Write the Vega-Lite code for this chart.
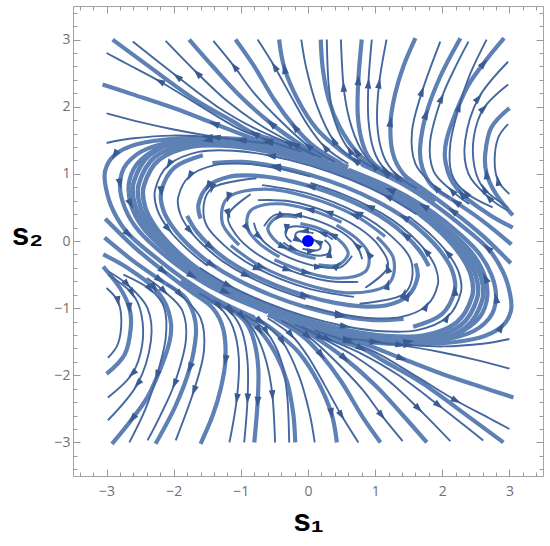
{
"$schema": "https://vega.github.io/schema/vega-lite/v6.json",
"width": 470, "height": 470,
"autosize": {"type": "none"},
"padding": {"left": 73, "top": 6, "right": 7, "bottom": 70},
"background": "white",
"config": {"view": {"stroke": "#a3a3a3", "strokeWidth": 1}},
"datasets": {
"band": [
{"k":"b1","x":-2.52,"y":0.85},{"k":"b1","x":-2.5,"y":0.52},{"k":"b1","x":-2.33,"y":0.2},{"k":"b1","x":-2.05,"y":-0.12},{"k":"b1","x":-1.7,"y":-0.42},{"k":"b1","x":-1.25,"y":-0.7},{"k":"b1","x":-0.68,"y":-0.97},{"k":"b1","x":-0.05,"y":-1.2},{"k":"b1","x":0.6,"y":-1.37},{"k":"b1","x":1.2,"y":-1.46},{"k":"b1","x":1.78,"y":-1.45},{"k":"b1","x":2.28,"y":-1.25},{"k":"b1","x":2.52,"y":-0.85},{"k":"b1","x":2.5,"y":-0.52},{"k":"b1","x":2.33,"y":-0.2},{"k":"b1","x":2.05,"y":0.12},{"k":"b1","x":1.7,"y":0.42},{"k":"b1","x":1.25,"y":0.7},{"k":"b1","x":0.68,"y":0.97},{"k":"b1","x":0.05,"y":1.2},{"k":"b1","x":-0.6,"y":1.37},{"k":"b1","x":-1.2,"y":1.46},{"k":"b1","x":-1.78,"y":1.45},{"k":"b1","x":-2.28,"y":1.25},
{"k":"b2","x":-2.444,"y":0.825},{"k":"b2","x":-2.425,"y":0.504},{"k":"b2","x":-2.26,"y":0.194},{"k":"b2","x":-1.989,"y":-0.116},{"k":"b2","x":-1.649,"y":-0.407},{"k":"b2","x":-1.213,"y":-0.679},{"k":"b2","x":-0.66,"y":-0.941},{"k":"b2","x":-0.049,"y":-1.164},{"k":"b2","x":0.582,"y":-1.329},{"k":"b2","x":1.164,"y":-1.416},{"k":"b2","x":1.727,"y":-1.407},{"k":"b2","x":2.212,"y":-1.213},{"k":"b2","x":2.444,"y":-0.825},{"k":"b2","x":2.425,"y":-0.504},{"k":"b2","x":2.26,"y":-0.194},{"k":"b2","x":1.989,"y":0.116},{"k":"b2","x":1.649,"y":0.407},{"k":"b2","x":1.213,"y":0.679},{"k":"b2","x":0.66,"y":0.941},{"k":"b2","x":0.049,"y":1.164},{"k":"b2","x":-0.582,"y":1.329},{"k":"b2","x":-1.164,"y":1.416},{"k":"b2","x":-1.727,"y":1.407},{"k":"b2","x":-2.212,"y":1.213},
{"k":"b3","x":-2.596,"y":0.876},{"k":"b3","x":-2.575,"y":0.536},{"k":"b3","x":-2.4,"y":0.206},{"k":"b3","x":-2.112,"y":-0.124},{"k":"b3","x":-1.751,"y":-0.433},{"k":"b3","x":-1.288,"y":-0.721},{"k":"b3","x":-0.7,"y":-0.999},{"k":"b3","x":-0.052,"y":-1.236},{"k":"b3","x":0.618,"y":-1.411},{"k":"b3","x":1.236,"y":-1.504},{"k":"b3","x":1.833,"y":-1.494},{"k":"b3","x":2.348,"y":-1.288},{"k":"b3","x":2.596,"y":-0.876},{"k":"b3","x":2.575,"y":-0.536},{"k":"b3","x":2.4,"y":-0.206},{"k":"b3","x":2.112,"y":0.124},{"k":"b3","x":1.751,"y":0.433},{"k":"b3","x":1.288,"y":0.721},{"k":"b3","x":0.7,"y":0.999},{"k":"b3","x":0.052,"y":1.236},{"k":"b3","x":-0.618,"y":1.411},{"k":"b3","x":-1.236,"y":1.504},{"k":"b3","x":-1.833,"y":1.494},{"k":"b3","x":-2.348,"y":1.288}
],
"thick": [
{"k":"c1","x":0.6,"y":1.1},{"k":"c1","x":0,"y":1.33},{"k":"c1","x":-0.6,"y":1.47},{"k":"c1","x":-1.2,"y":1.53},{"k":"c1","x":-2,"y":1.52},{"k":"c1","x":-2.55,"y":1.44},{"k":"c1","x":-2.88,"y":1.28},{"k":"c1","x":-3.02,"y":1.05},{"k":"c1","x":-3.01,"y":0.79},{"k":"c1","x":-2.9,"y":0.45},{"k":"c1","x":-2.67,"y":0.1},{"k":"c1","x":-2.2,"y":-0.3},{"k":"c1","x":-1.8,"y":-0.6},{"k":"c1","x":-1.35,"y":-0.88},{"k":"c1","x":-0.8,"y":-1.14},
{"k":"c1m","x":-0.6,"y":-1.1},{"k":"c1m","x":0,"y":-1.33},{"k":"c1m","x":0.6,"y":-1.47},{"k":"c1m","x":1.2,"y":-1.53},{"k":"c1m","x":2,"y":-1.52},{"k":"c1m","x":2.55,"y":-1.44},{"k":"c1m","x":2.88,"y":-1.28},{"k":"c1m","x":3.02,"y":-1.05},{"k":"c1m","x":3.01,"y":-0.79},{"k":"c1m","x":2.9,"y":-0.45},{"k":"c1m","x":2.67,"y":-0.1},{"k":"c1m","x":2.2,"y":0.3},{"k":"c1m","x":1.8,"y":0.6},{"k":"c1m","x":1.35,"y":0.88},{"k":"c1m","x":0.8,"y":1.14},
{"k":"c2","x":0.3,"y":1.22},{"k":"c2","x":-0.3,"y":1.4},{"k":"c2","x":-1,"y":1.5},{"k":"c2","x":-1.8,"y":1.5},{"k":"c2","x":-2.38,"y":1.38},{"k":"c2","x":-2.7,"y":1.15},{"k":"c2","x":-2.8,"y":0.85},{"k":"c2","x":-2.73,"y":0.5},{"k":"c2","x":-2.52,"y":0.15},{"k":"c2","x":-2.15,"y":-0.2},{"k":"c2","x":-1.72,"y":-0.52},{"k":"c2","x":-1.22,"y":-0.8},{"k":"c2","x":-0.6,"y":-1.06},
{"k":"c2m","x":-0.3,"y":-1.22},{"k":"c2m","x":0.3,"y":-1.4},{"k":"c2m","x":1,"y":-1.5},{"k":"c2m","x":1.8,"y":-1.5},{"k":"c2m","x":2.38,"y":-1.38},{"k":"c2m","x":2.7,"y":-1.15},{"k":"c2m","x":2.8,"y":-0.85},{"k":"c2m","x":2.73,"y":-0.5},{"k":"c2m","x":2.52,"y":-0.15},{"k":"c2m","x":2.15,"y":0.2},{"k":"c2m","x":1.72,"y":0.52},{"k":"c2m","x":1.22,"y":0.8},{"k":"c2m","x":0.6,"y":1.06},
{"k":"c3","x":0,"y":1.28},{"k":"c3","x":-0.7,"y":1.44},{"k":"c3","x":-1.5,"y":1.5},{"k":"c3","x":-2.1,"y":1.43},{"k":"c3","x":-2.5,"y":1.2},{"k":"c3","x":-2.66,"y":0.9},{"k":"c3","x":-2.64,"y":0.55},{"k":"c3","x":-2.46,"y":0.2},{"k":"c3","x":-2.14,"y":-0.13},{"k":"c3","x":-1.72,"y":-0.46},{"k":"c3","x":-1.22,"y":-0.76},{"k":"c3","x":-0.62,"y":-1.03},{"k":"c3","x":0,"y":-1.26},
{"k":"c3m","x":0,"y":-1.28},{"k":"c3m","x":0.7,"y":-1.44},{"k":"c3m","x":1.5,"y":-1.5},{"k":"c3m","x":2.1,"y":-1.43},{"k":"c3m","x":2.5,"y":-1.2},{"k":"c3m","x":2.66,"y":-0.9},{"k":"c3m","x":2.64,"y":-0.55},{"k":"c3m","x":2.46,"y":-0.2},{"k":"c3m","x":2.14,"y":0.13},{"k":"c3m","x":1.72,"y":0.46},{"k":"c3m","x":1.22,"y":0.76},{"k":"c3m","x":0.62,"y":1.03},{"k":"c3m","x":0,"y":1.26},
{"k":"u2","x":3.05,"y":0.38},{"k":"u2","x":2.8,"y":0.7},{"k":"u2","x":2.66,"y":1.0},{"k":"u2","x":2.64,"y":1.3},{"k":"u2","x":2.73,"y":1.69},{"k":"u2","x":3,"y":1.98},
{"k":"u2m","x":-3.05,"y":-0.38},{"k":"u2m","x":-2.8,"y":-0.7},{"k":"u2m","x":-2.66,"y":-1.0},{"k":"u2m","x":-2.64,"y":-1.3},{"k":"u2m","x":-2.73,"y":-1.69},{"k":"u2m","x":-3,"y":-1.98},
{"k":"u5","x":3.05,"y":0.2},{"k":"u5","x":2.69,"y":0.4},{"k":"u5","x":2.29,"y":0.7},{"k":"u5","x":2.08,"y":1.04},{"k":"u5","x":2.06,"y":1.49},{"k":"u5","x":2.34,"y":2.23},{"k":"u5","x":2.62,"y":2.65},{"k":"u5","x":2.92,"y":3.02},
{"k":"u5m","x":-3.05,"y":-0.2},{"k":"u5m","x":-2.69,"y":-0.4},{"k":"u5m","x":-2.29,"y":-0.7},{"k":"u5m","x":-2.08,"y":-1.04},{"k":"u5m","x":-2.06,"y":-1.49},{"k":"u5m","x":-2.34,"y":-2.23},{"k":"u5m","x":-2.62,"y":-2.65},{"k":"u5m","x":-2.92,"y":-3.02},
{"k":"u8","x":3.03,"y":-0.05},{"k":"u8","x":2.6,"y":0.3},{"k":"u8","x":2.2,"y":0.58},{"k":"u8","x":1.85,"y":0.82},{"k":"u8","x":1.7,"y":1.1},{"k":"u8","x":1.67,"y":1.4},{"k":"u8","x":1.76,"y":1.89},{"k":"u8","x":1.97,"y":2.45},{"k":"u8","x":2.27,"y":3.02},
{"k":"u8m","x":-3.03,"y":0.05},{"k":"u8m","x":-2.6,"y":-0.3},{"k":"u8m","x":-2.2,"y":-0.58},{"k":"u8m","x":-1.85,"y":-0.82},{"k":"u8m","x":-1.7,"y":-1.1},{"k":"u8m","x":-1.67,"y":-1.4},{"k":"u8m","x":-1.76,"y":-1.89},{"k":"u8m","x":-1.97,"y":-2.45},{"k":"u8m","x":-2.27,"y":-3.02},
{"k":"u10","x":3.02,"y":-0.33},{"k":"u10","x":2.6,"y":0.08},{"k":"u10","x":2.15,"y":0.45},{"k":"u10","x":1.75,"y":0.75},{"k":"u10","x":1.42,"y":1.0},{"k":"u10","x":1.26,"y":1.32},{"k":"u10","x":1.23,"y":1.78},{"k":"u10","x":1.3,"y":2.2},{"k":"u10","x":1.42,"y":2.6},{"k":"u10","x":1.6,"y":3.02},
{"k":"u10m","x":-3.02,"y":0.33},{"k":"u10m","x":-2.6,"y":-0.08},{"k":"u10m","x":-2.15,"y":-0.45},{"k":"u10m","x":-1.75,"y":-0.75},{"k":"u10m","x":-1.42,"y":-1.0},{"k":"u10m","x":-1.26,"y":-1.32},{"k":"u10m","x":-1.23,"y":-1.78},{"k":"u10m","x":-1.3,"y":-2.2},{"k":"u10m","x":-1.42,"y":-2.6},{"k":"u10m","x":-1.6,"y":-3.02},
{"k":"u13","x":1.9,"y":0.6},{"k":"u13","x":1.5,"y":0.85},{"k":"u13","x":1.15,"y":1.02},{"k":"u13","x":0.92,"y":1.22},{"k":"u13","x":0.8,"y":1.5},{"k":"u13","x":0.74,"y":1.9},{"k":"u13","x":0.75,"y":2.4},{"k":"u13","x":0.8,"y":3.0},
{"k":"u13m","x":-1.9,"y":-0.6},{"k":"u13m","x":-1.5,"y":-0.85},{"k":"u13m","x":-1.15,"y":-1.02},{"k":"u13m","x":-0.92,"y":-1.22},{"k":"u13m","x":-0.8,"y":-1.5},{"k":"u13m","x":-0.74,"y":-1.9},{"k":"u13m","x":-0.75,"y":-2.4},{"k":"u13m","x":-0.8,"y":-3.0},
{"k":"u15","x":1.5,"y":0.88},{"k":"u15","x":1.0,"y":1.1},{"k":"u15","x":0.72,"y":1.33},{"k":"u15","x":0.47,"y":1.7},{"k":"u15","x":0.31,"y":2.1},{"k":"u15","x":0.22,"y":2.57},{"k":"u15","x":0.19,"y":3.0},
{"k":"u15m","x":-1.5,"y":-0.88},{"k":"u15m","x":-1.0,"y":-1.1},{"k":"u15m","x":-0.72,"y":-1.33},{"k":"u15m","x":-0.47,"y":-1.7},{"k":"u15m","x":-0.31,"y":-2.1},{"k":"u15m","x":-0.22,"y":-2.57},{"k":"u15m","x":-0.19,"y":-3.0},
{"k":"u18","x":1.6,"y":0.8},{"k":"u18","x":1.1,"y":1.03},{"k":"u18","x":0.7,"y":1.2},{"k":"u18","x":0.42,"y":1.4},{"k":"u18","x":0.12,"y":1.68},{"k":"u18","x":-0.15,"y":2.1},{"k":"u18","x":-0.35,"y":2.57},{"k":"u18","x":-0.43,"y":3.0},
{"k":"u18m","x":-1.6,"y":-0.8},{"k":"u18m","x":-1.1,"y":-1.03},{"k":"u18m","x":-0.7,"y":-1.2},{"k":"u18m","x":-0.42,"y":-1.4},{"k":"u18m","x":-0.12,"y":-1.68},{"k":"u18m","x":0.15,"y":-2.1},{"k":"u18m","x":0.35,"y":-2.57},{"k":"u18m","x":0.43,"y":-3.0},
{"k":"l1","x":0,"y":1.3},{"k":"l1","x":-0.4,"y":1.47},{"k":"l1","x":-0.8,"y":1.6},{"k":"l1","x":-1.15,"y":1.8},{"k":"l1","x":-1.72,"y":2.13},{"k":"l1","x":-2.41,"y":2.63},{"k":"l1","x":-2.91,"y":3.0},
{"k":"l1m","x":0,"y":-1.3},{"k":"l1m","x":0.4,"y":-1.47},{"k":"l1m","x":0.8,"y":-1.6},{"k":"l1m","x":1.15,"y":-1.8},{"k":"l1m","x":1.72,"y":-2.13},{"k":"l1m","x":2.41,"y":-2.63},{"k":"l1m","x":2.91,"y":-3.0},
{"k":"l4","x":-0.3,"y":1.38},{"k":"l4","x":-0.8,"y":1.52},{"k":"l4","x":-1.4,"y":1.75},{"k":"l4","x":-2.0,"y":1.98},{"k":"l4","x":-2.6,"y":2.18},{"k":"l4","x":-3.06,"y":2.33},
{"k":"l4m","x":0.3,"y":-1.38},{"k":"l4m","x":0.8,"y":-1.52},{"k":"l4m","x":1.4,"y":-1.75},{"k":"l4m","x":2.0,"y":-1.98},{"k":"l4m","x":2.6,"y":-2.18},{"k":"l4m","x":3.06,"y":-2.33},
{"k":"l6","x":0.3,"y":1.2},{"k":"l6","x":-0.1,"y":1.43},{"k":"l6","x":-0.55,"y":1.75},{"k":"l6","x":-1.0,"y":2.15},{"k":"l6","x":-1.4,"y":2.58},{"k":"l6","x":-1.77,"y":3.0},
{"k":"l6m","x":-0.3,"y":-1.2},{"k":"l6m","x":0.1,"y":-1.43},{"k":"l6m","x":0.55,"y":-1.75},{"k":"l6m","x":1.0,"y":-2.15},{"k":"l6m","x":1.4,"y":-2.58},{"k":"l6m","x":1.77,"y":-3.0},
{"k":"l8","x":0.5,"y":1.15},{"k":"l8","x":0.1,"y":1.4},{"k":"l8","x":-0.2,"y":1.7},{"k":"l8","x":-0.5,"y":2.1},{"k":"l8","x":-0.8,"y":2.6},{"k":"l8","x":-1.08,"y":3.0},
{"k":"l8m","x":-0.5,"y":-1.15},{"k":"l8m","x":-0.1,"y":-1.4},{"k":"l8m","x":0.2,"y":-1.7},{"k":"l8m","x":0.5,"y":-2.1},{"k":"l8m","x":0.8,"y":-2.6},{"k":"l8m","x":1.08,"y":-3.0},
{"k":"a2","x":1.566,"y":-1.276},{"k":"a2","x":1.991,"y":-1.092},{"k":"a2","x":2.185,"y":-0.737},{"k":"a2","x":2.15,"y":-0.447},{"k":"a2","x":1.988,"y":-0.171},{"k":"a2","x":1.736,"y":0.102},{"k":"a2","x":1.428,"y":0.353},{"k":"a2","x":1.042,"y":0.583},{"k":"a2","x":0.562,"y":0.802},{"k":"a2","x":0.041,"y":0.984},{"k":"a2","x":-0.488,"y":1.114},{"k":"a2","x":-0.968,"y":1.178},{"k":"a2","x":-1.424,"y":1.16},
{"k":"a2m","x":-1.566,"y":1.276},{"k":"a2m","x":-1.991,"y":1.092},{"k":"a2m","x":-2.185,"y":0.737},{"k":"a2m","x":-2.15,"y":0.447},{"k":"a2m","x":-1.988,"y":0.171},{"k":"a2m","x":-1.736,"y":-0.102},{"k":"a2m","x":-1.428,"y":-0.353},{"k":"a2m","x":-1.042,"y":-0.583},{"k":"a2m","x":-0.562,"y":-0.802},{"k":"a2m","x":-0.041,"y":-0.984},{"k":"a2m","x":0.488,"y":-1.114},{"k":"a2m","x":0.968,"y":-1.178},{"k":"a2m","x":1.424,"y":-1.16},
{"k":"a4","x":1.8,"y":-0.374},{"k":"a4","x":1.661,"y":-0.143},{"k":"a4","x":1.449,"y":0.085},{"k":"a4","x":1.19,"y":0.294},{"k":"a4","x":0.866,"y":0.485},{"k":"a4","x":0.467,"y":0.666},{"k":"a4","x":0.034,"y":0.816},{"k":"a4","x":-0.404,"y":0.922},{"k":"a4","x":-0.8,"y":0.974},{"k":"a4","x":-1.175,"y":0.957},{"k":"a4","x":-1.489,"y":0.816},{"k":"a4","x":-1.63,"y":0.55},{"k":"a4","x":-1.6,"y":0.333},
{"k":"a4m","x":-1.8,"y":0.374},{"k":"a4m","x":-1.661,"y":0.143},{"k":"a4m","x":-1.449,"y":-0.085},{"k":"a4m","x":-1.19,"y":-0.294},{"k":"a4m","x":-0.866,"y":-0.485},{"k":"a4m","x":-0.467,"y":-0.666},{"k":"a4m","x":-0.034,"y":-0.816},{"k":"a4m","x":0.404,"y":-0.922},{"k":"a4m","x":0.8,"y":-0.974},{"k":"a4m","x":1.175,"y":-0.957},{"k":"a4m","x":1.489,"y":-0.816},{"k":"a4m","x":1.63,"y":-0.55},{"k":"a4m","x":1.6,"y":-0.333}
],
"mid": [
{"k":"a6","x":1.148,"y":0.067},{"k":"a6","x":0.688,"y":0.385},{"k":"a6","x":0.027,"y":0.648},{"k":"a6","x":-0.636,"y":0.774},{"k":"a6","x":-1.186,"y":0.65},{"k":"a6","x":-1.275,"y":0.265},{"k":"a6","x":-1.025,"y":-0.06},
{"k":"a6m","x":-1.148,"y":-0.067},{"k":"a6m","x":-0.688,"y":-0.385},{"k":"a6m","x":-0.027,"y":-0.648},{"k":"a6m","x":0.636,"y":-0.774},{"k":"a6m","x":1.186,"y":-0.65},{"k":"a6m","x":1.275,"y":-0.265},{"k":"a6m","x":1.025,"y":0.06},
{"k":"a8","x":0.5,"y":0.28},{"k":"a8","x":0.02,"y":0.468},{"k":"a8","x":-0.456,"y":0.555},{"k":"a8","x":-0.844,"y":0.463},{"k":"a8","x":-0.9,"y":0.187},{"k":"a8","x":-0.718,"y":-0.042},{"k":"a8","x":-0.425,"y":-0.238},
{"k":"a8m","x":-0.5,"y":-0.28},{"k":"a8m","x":-0.02,"y":-0.468},{"k":"a8m","x":0.456,"y":-0.555},{"k":"a8m","x":0.844,"y":-0.463},{"k":"a8m","x":0.9,"y":-0.187},{"k":"a8m","x":0.718,"y":0.042},{"k":"a8m","x":0.425,"y":0.238},
{"k":"a10","x":-0.156,"y":0.356},{"k":"a10","x":-0.442,"y":0.36},{"k":"a10","x":-0.597,"y":0.201},{"k":"a10","x":-0.524,"y":0.045},{"k":"a10","x":-0.362,"y":-0.089},{"k":"a10","x":-0.137,"y":-0.196},{"k":"a10","x":0.114,"y":-0.26},
{"k":"a10m","x":0.156,"y":-0.356},{"k":"a10m","x":0.442,"y":-0.36},{"k":"a10m","x":0.597,"y":-0.201},{"k":"a10m","x":0.524,"y":-0.045},{"k":"a10m","x":0.362,"y":0.089},{"k":"a10m","x":0.137,"y":0.196},{"k":"a10m","x":-0.114,"y":0.26}
],
"thin": [
{"k":"u1","x":3.0,"y":0.7},{"k":"u1","x":2.83,"y":0.9},{"k":"u1","x":2.78,"y":1.19},{"k":"u1","x":2.83,"y":1.53},{"k":"u1","x":2.98,"y":1.74},
{"k":"u1m","x":-3.0,"y":-0.7},{"k":"u1m","x":-2.83,"y":-0.9},{"k":"u1m","x":-2.78,"y":-1.19},{"k":"u1m","x":-2.83,"y":-1.53},{"k":"u1m","x":-2.98,"y":-1.74},
{"k":"u3","x":2.98,"y":0.5},{"k":"u3","x":2.62,"y":0.78},{"k":"u3","x":2.48,"y":1.1},{"k":"u3","x":2.47,"y":1.55},{"k":"u3","x":2.62,"y":1.98},{"k":"u3","x":2.98,"y":2.33},
{"k":"u3m","x":-2.98,"y":-0.5},{"k":"u3m","x":-2.62,"y":-0.78},{"k":"u3m","x":-2.48,"y":-1.1},{"k":"u3m","x":-2.47,"y":-1.55},{"k":"u3m","x":-2.62,"y":-1.98},{"k":"u3m","x":-2.98,"y":-2.33},
{"k":"u4","x":2.98,"y":0.45},{"k":"u4","x":2.69,"y":0.65},{"k":"u4","x":2.39,"y":1.0},{"k":"u4","x":2.34,"y":1.49},{"k":"u4","x":2.54,"y":2.13},{"k":"u4","x":2.98,"y":2.67},
{"k":"u4m","x":-2.98,"y":-0.45},{"k":"u4m","x":-2.69,"y":-0.65},{"k":"u4m","x":-2.39,"y":-1.0},{"k":"u4m","x":-2.34,"y":-1.49},{"k":"u4m","x":-2.54,"y":-2.13},{"k":"u4m","x":-2.98,"y":-2.67},
{"k":"u6","x":2.75,"y":0.5},{"k":"u6","x":2.35,"y":0.72},{"k":"u6","x":2.14,"y":1.0},{"k":"u6","x":2.12,"y":1.45},{"k":"u6","x":2.25,"y":2.0},{"k":"u6","x":2.42,"y":2.5},{"k":"u6","x":2.66,"y":3.0},
{"k":"u6m","x":-2.75,"y":-0.5},{"k":"u6m","x":-2.35,"y":-0.72},{"k":"u6m","x":-2.14,"y":-1.0},{"k":"u6m","x":-2.12,"y":-1.45},{"k":"u6m","x":-2.25,"y":-2.0},{"k":"u6m","x":-2.42,"y":-2.5},{"k":"u6m","x":-2.66,"y":-3.0},
{"k":"u7","x":2.4,"y":0.55},{"k":"u7","x":2.14,"y":0.75},{"k":"u7","x":1.87,"y":1.04},{"k":"u7","x":1.82,"y":1.49},{"k":"u7","x":1.99,"y":2.13},{"k":"u7","x":2.2,"y":2.6},{"k":"u7","x":2.39,"y":2.97},
{"k":"u7m","x":-2.4,"y":-0.55},{"k":"u7m","x":-2.14,"y":-0.75},{"k":"u7m","x":-1.87,"y":-1.04},{"k":"u7m","x":-1.82,"y":-1.49},{"k":"u7m","x":-1.99,"y":-2.13},{"k":"u7m","x":-2.2,"y":-2.6},{"k":"u7m","x":-2.39,"y":-2.97},
{"k":"u9","x":2.1,"y":0.65},{"k":"u9","x":1.9,"y":0.8},{"k":"u9","x":1.6,"y":1.15},{"k":"u9","x":1.55,"y":1.64},{"k":"u9","x":1.7,"y":2.23},{"k":"u9","x":1.97,"y":2.97},
{"k":"u9m","x":-2.1,"y":-0.65},{"k":"u9m","x":-1.9,"y":-0.8},{"k":"u9m","x":-1.6,"y":-1.15},{"k":"u9m","x":-1.55,"y":-1.64},{"k":"u9m","x":-1.7,"y":-2.23},{"k":"u9m","x":-1.97,"y":-2.97},
{"k":"u11","x":1.62,"y":0.78},{"k":"u11","x":1.32,"y":0.98},{"k":"u11","x":1.12,"y":1.28},{"k":"u11","x":1.03,"y":1.75},{"k":"u11","x":1.06,"y":2.35},{"k":"u11","x":1.17,"y":3.0},
{"k":"u11m","x":-1.62,"y":-0.78},{"k":"u11m","x":-1.32,"y":-0.98},{"k":"u11m","x":-1.12,"y":-1.28},{"k":"u11m","x":-1.03,"y":-1.75},{"k":"u11m","x":-1.06,"y":-2.35},{"k":"u11m","x":-1.17,"y":-3.0},
{"k":"u12","x":1.4,"y":0.88},{"k":"u12","x":1.15,"y":1.06},{"k":"u12","x":0.98,"y":1.35},{"k":"u12","x":0.9,"y":1.8},{"k":"u12","x":0.9,"y":2.35},{"k":"u12","x":0.95,"y":3.0},
{"k":"u12m","x":-1.4,"y":-0.88},{"k":"u12m","x":-1.15,"y":-1.06},{"k":"u12m","x":-0.98,"y":-1.35},{"k":"u12m","x":-0.9,"y":-1.8},{"k":"u12m","x":-0.9,"y":-2.35},{"k":"u12m","x":-0.95,"y":-3.0},
{"k":"u14","x":1.2,"y":0.98},{"k":"u14","x":0.98,"y":1.12},{"k":"u14","x":0.78,"y":1.38},{"k":"u14","x":0.62,"y":1.8},{"k":"u14","x":0.53,"y":2.3},{"k":"u14","x":0.49,"y":3.0},
{"k":"u14m","x":-1.2,"y":-0.98},{"k":"u14m","x":-0.98,"y":-1.12},{"k":"u14m","x":-0.78,"y":-1.38},{"k":"u14m","x":-0.62,"y":-1.8},{"k":"u14m","x":-0.53,"y":-2.3},{"k":"u14m","x":-0.49,"y":-3.0},
{"k":"u16","x":0.95,"y":1.1},{"k":"u16","x":0.62,"y":1.35},{"k":"u16","x":0.4,"y":1.78},{"k":"u16","x":0.31,"y":2.3},{"k":"u16","x":0.28,"y":3.0},
{"k":"u16m","x":-0.95,"y":-1.1},{"k":"u16m","x":-0.62,"y":-1.35},{"k":"u16m","x":-0.4,"y":-1.78},{"k":"u16m","x":-0.31,"y":-2.3},{"k":"u16m","x":-0.28,"y":-3.0},
{"k":"u17","x":0.75,"y":1.15},{"k":"u17","x":0.38,"y":1.5},{"k":"u17","x":0.13,"y":2.02},{"k":"u17","x":-0.02,"y":2.55},{"k":"u17","x":-0.1,"y":3.0},
{"k":"u17m","x":-0.75,"y":-1.15},{"k":"u17m","x":-0.38,"y":-1.5},{"k":"u17m","x":-0.13,"y":-2.02},{"k":"u17m","x":0.02,"y":-2.55},{"k":"u17m","x":0.1,"y":-3.0},
{"k":"l11","x":0.6,"y":1.15},{"k":"l11","x":0.25,"y":1.4},{"k":"l11","x":0,"y":1.72},{"k":"l11","x":-0.25,"y":2.15},{"k":"l11","x":-0.5,"y":2.6},{"k":"l11","x":-0.75,"y":3.0},
{"k":"l11m","x":-0.6,"y":-1.15},{"k":"l11m","x":-0.25,"y":-1.4},{"k":"l11m","x":0,"y":-1.72},{"k":"l11m","x":0.25,"y":-2.15},{"k":"l11m","x":0.5,"y":-2.6},{"k":"l11m","x":0.75,"y":-3.0},
{"k":"l7","x":0.4,"y":1.18},{"k":"l7","x":0,"y":1.42},{"k":"l7","x":-0.4,"y":1.78},{"k":"l7","x":-0.8,"y":2.2},{"k":"l7","x":-1.1,"y":2.6},{"k":"l7","x":-1.41,"y":2.98},
{"k":"l7m","x":-0.4,"y":-1.18},{"k":"l7m","x":0,"y":-1.42},{"k":"l7m","x":0.4,"y":-1.78},{"k":"l7m","x":0.8,"y":-2.2},{"k":"l7m","x":1.1,"y":-2.6},{"k":"l7m","x":1.41,"y":-2.98},
{"k":"l5","x":0.2,"y":1.24},{"k":"l5","x":-0.2,"y":1.44},{"k":"l5","x":-0.7,"y":1.72},{"k":"l5","x":-1.2,"y":2.08},{"k":"l5","x":-1.65,"y":2.5},{"k":"l5","x":-2.12,"y":2.98},
{"k":"l5m","x":-0.2,"y":-1.24},{"k":"l5m","x":0.2,"y":-1.44},{"k":"l5m","x":0.7,"y":-1.72},{"k":"l5m","x":1.2,"y":-2.08},{"k":"l5m","x":1.65,"y":-2.5},{"k":"l5m","x":2.12,"y":-2.98},
{"k":"l3","x":0.1,"y":1.27},{"k":"l3","x":-0.3,"y":1.46},{"k":"l3","x":-0.8,"y":1.68},{"k":"l3","x":-1.35,"y":2.0},{"k":"l3","x":-1.95,"y":2.45},{"k":"l3","x":-2.61,"y":2.97},
{"k":"l3m","x":-0.1,"y":-1.27},{"k":"l3m","x":0.3,"y":-1.46},{"k":"l3m","x":0.8,"y":-1.68},{"k":"l3m","x":1.35,"y":-2.0},{"k":"l3m","x":1.95,"y":-2.45},{"k":"l3m","x":2.61,"y":-2.97},
{"k":"l2","x":-0.1,"y":1.33},{"k":"l2","x":-0.6,"y":1.5},{"k":"l2","x":-1.05,"y":1.68},{"k":"l2","x":-1.62,"y":2.02},{"k":"l2","x":-2.21,"y":2.38},{"k":"l2","x":-2.7,"y":2.64},{"k":"l2","x":-3.0,"y":2.8},
{"k":"l2m","x":0.1,"y":-1.33},{"k":"l2m","x":0.6,"y":-1.5},{"k":"l2m","x":1.05,"y":-1.68},{"k":"l2m","x":1.62,"y":-2.02},{"k":"l2m","x":2.21,"y":-2.38},{"k":"l2m","x":2.7,"y":-2.64},{"k":"l2m","x":3.0,"y":-2.8},
{"k":"l9","x":-0.6,"y":1.45},{"k":"l9","x":-1.38,"y":1.55},{"k":"l9","x":-2.0,"y":1.66},{"k":"l9","x":-2.5,"y":1.77},{"k":"l9","x":-3.0,"y":1.9},
{"k":"l9m","x":0.6,"y":-1.45},{"k":"l9m","x":1.38,"y":-1.55},{"k":"l9m","x":2.0,"y":-1.66},{"k":"l9m","x":2.5,"y":-1.77},{"k":"l9m","x":3.0,"y":-1.9},
{"k":"l10","x":-0.9,"y":1.5},{"k":"l10","x":-1.5,"y":1.55},{"k":"l10","x":-2.02,"y":1.57},{"k":"l10","x":-2.6,"y":1.53},{"k":"l10","x":-3.0,"y":1.46},
{"k":"l10m","x":0.9,"y":-1.5},{"k":"l10m","x":1.5,"y":-1.55},{"k":"l10m","x":2.02,"y":-1.57},{"k":"l10m","x":2.6,"y":-1.53},{"k":"l10m","x":3.0,"y":-1.46},
{"k":"a1","x":1.615,"y":0.399},{"k":"a1","x":1.18,"y":0.661},{"k":"a1","x":0.638,"y":0.91},{"k":"a1","x":0.047,"y":1.12},{"k":"a1","x":-0.556,"y":1.27},{"k":"a1","x":-1.105,"y":1.345},{"k":"a1","x":-1.629,"y":1.327},{"k":"a1","x":-2.073,"y":1.136},{"k":"a1","x":-2.276,"y":0.768},{"k":"a1","x":-2.245,"y":0.467},{"k":"a1","x":-2.078,"y":0.178},{"k":"a1","x":-1.816,"y":-0.106},{"k":"a1","x":-1.496,"y":-0.37},
{"k":"a1m","x":-1.615,"y":-0.399},{"k":"a1m","x":-1.18,"y":-0.661},{"k":"a1m","x":-0.638,"y":-0.91},{"k":"a1m","x":-0.047,"y":-1.12},{"k":"a1m","x":0.556,"y":-1.27},{"k":"a1m","x":1.105,"y":-1.345},{"k":"a1m","x":1.629,"y":-1.327},{"k":"a1m","x":2.073,"y":-1.136},{"k":"a1m","x":2.276,"y":-0.768},{"k":"a1m","x":2.245,"y":-0.467},{"k":"a1m","x":2.078,"y":-0.178},{"k":"a1m","x":1.816,"y":0.106},{"k":"a1m","x":1.496,"y":0.37},
{"k":"a3","x":0.04,"y":0.96},{"k":"a3","x":-0.476,"y":1.087},{"k":"a3","x":-0.944,"y":1.149},{"k":"a3","x":-1.388,"y":1.131},{"k":"a3","x":-1.763,"y":0.966},{"k":"a3","x":-1.933,"y":0.652},{"k":"a3","x":-1.9,"y":0.395},{"k":"a3","x":-1.755,"y":0.151},{"k":"a3","x":-1.531,"y":-0.09},{"k":"a3","x":-1.258,"y":-0.311},{"k":"a3","x":-0.916,"y":-0.513},{"k":"a3","x":-0.494,"y":-0.705},{"k":"a3","x":-0.036,"y":-0.864},
{"k":"a3m","x":-0.04,"y":-0.96},{"k":"a3m","x":0.476,"y":-1.087},{"k":"a3m","x":0.944,"y":-1.149},{"k":"a3m","x":1.388,"y":-1.131},{"k":"a3m","x":1.763,"y":-0.966},{"k":"a3m","x":1.933,"y":-0.652},{"k":"a3m","x":1.9,"y":-0.395},{"k":"a3m","x":1.755,"y":-0.151},{"k":"a3m","x":1.531,"y":0.09},{"k":"a3m","x":1.258,"y":0.311},{"k":"a3m","x":0.916,"y":0.513},{"k":"a3m","x":0.494,"y":0.705},{"k":"a3m","x":0.036,"y":0.864},
{"k":"a5","x":-0.768,"y":0.934},{"k":"a5","x":-1.432,"y":0.785},{"k":"a5","x":-1.543,"y":0.321},{"k":"a5","x":-1.24,"y":-0.073},{"k":"a5","x":-0.741,"y":-0.415},{"k":"a5","x":-0.029,"y":-0.698},{"k":"a5","x":0.684,"y":-0.832},
{"k":"a5m","x":0.768,"y":-0.934},{"k":"a5m","x":1.432,"y":-0.785},{"k":"a5m","x":1.543,"y":-0.321},{"k":"a5m","x":1.24,"y":0.073},{"k":"a5m","x":0.741,"y":0.415},{"k":"a5m","x":0.029,"y":0.698},{"k":"a5m","x":-0.684,"y":0.832},
{"k":"a7","x":-0.854,"y":0.696},{"k":"a7","x":-1.184,"y":0.4},{"k":"a7","x":-1.072,"y":0.092},{"k":"a7","x":-0.765,"y":-0.189},{"k":"a7","x":-0.299,"y":-0.427},{"k":"a7","x":0.258,"y":-0.589},{"k":"a7","x":0.748,"y":-0.609},
{"k":"a7m","x":0.854,"y":-0.696},{"k":"a7m","x":1.184,"y":-0.4},{"k":"a7m","x":1.072,"y":-0.092},{"k":"a7m","x":0.765,"y":0.189},{"k":"a7m","x":0.299,"y":0.427},{"k":"a7m","x":-0.258,"y":0.589},{"k":"a7m","x":-0.748,"y":0.609},
{"k":"a9","x":0.806,"y":-0.272},{"k":"a9","x":0.722,"y":-0.062},{"k":"a9","x":0.51,"y":0.126},{"k":"a9","x":0.197,"y":0.281},{"k":"a9","x":-0.168,"y":0.384},{"k":"a9","x":-0.481,"y":0.392},{"k":"a9","x":-0.655,"y":0.221},
{"k":"a9m","x":-0.806,"y":0.272},{"k":"a9m","x":-0.722,"y":0.062},{"k":"a9m","x":-0.51,"y":-0.126},{"k":"a9m","x":-0.197,"y":-0.281},{"k":"a9m","x":0.168,"y":-0.384},{"k":"a9m","x":0.481,"y":-0.392},{"k":"a9m","x":0.655,"y":-0.221},
{"k":"a11","x":0.369,"y":0.022},{"k":"a11","x":0.213,"y":0.119},{"k":"a11","x":0.008,"y":0.192},{"k":"a11","x":-0.18,"y":0.219},{"k":"a11","x":-0.319,"y":0.175},{"k":"a11","x":-0.325,"y":0.068},{"k":"a11","x":-0.246,"y":-0.014},
{"k":"a11m","x":-0.369,"y":-0.022},{"k":"a11m","x":-0.213,"y":-0.119},{"k":"a11m","x":-0.008,"y":-0.192},{"k":"a11m","x":0.18,"y":-0.219},{"k":"a11m","x":0.319,"y":-0.175},{"k":"a11m","x":0.325,"y":-0.068},{"k":"a11m","x":0.246,"y":0.014},
{"k":"a12","x":0.082,"y":0.116},{"k":"a12","x":-0.063,"y":0.144},{"k":"a12","x":-0.16,"y":0.131},{"k":"a12","x":-0.189,"y":0.064},{"k":"a12","x":-0.14,"y":0.012},{"k":"a12","x":-0.077,"y":-0.019},{"k":"a12","x":-0.02,"y":-0.029},
{"k":"a12m","x":-0.082,"y":-0.116},{"k":"a12m","x":0.063,"y":-0.144},{"k":"a12m","x":0.16,"y":-0.131},{"k":"a12m","x":0.189,"y":-0.064},{"k":"a12m","x":0.14,"y":-0.012},{"k":"a12m","x":0.077,"y":0.019},{"k":"a12m","x":0.02,"y":0.029}
],
"dot": [{"x": 0, "y": 0}]
},
"layer": [
{
"data": {"name": "band"},
"mark": {"type": "line", "interpolate": "cardinal-closed", "stroke": "#5e81b5", "strokeWidth": 4.5, "clip": true},
"encoding": {
"x": {"field": "x", "type": "quantitative", "scale": {"domain": [-3.5, 3.5], "nice": false, "zero": false},
"axis": {"orient": "bottom", "values": [-3.4,-3.2,-3,-2.8,-2.6,-2.4,-2.2,-2,-1.8,-1.6,-1.4,-1.2,-1,-0.8,-0.6,-0.4,-0.2,0,0.2,0.4,0.6,0.8,1,1.2,1.4,1.6,1.8,2,2.2,2.4,2.6,2.8,3,3.2,3.4],
"labelExpr": "abs(datum.value - round(datum.value)) < 0.01 ? format(round(datum.value), 'd') : ''",
"tickSize": {"condition": {"test": "abs(datum.value - round(datum.value)) < 0.01", "value": -7}, "value": -4},
"tickColor": "#999999", "tickWidth": 1, "domain": false, "grid": false,
"labelFont": "Open Sans", "labelFontSize": 14, "labelColor": "#707070", "labelPadding": 15, "labelOverlap": false, "labelFlush": false,
"title": "s\u2081", "titleFont": "Liberation Sans", "titleFontSize": 31, "titleFontWeight": "bold", "titleColor": "#000000",
"titleX": 235, "titleY": 45, "titleAlign": "center", "titleBaseline": "middle"}},
"y": {"field": "y", "type": "quantitative", "scale": {"domain": [-3.5, 3.5], "nice": false, "zero": false},
"axis": {"orient": "left", "values": [-3.4,-3.2,-3,-2.8,-2.6,-2.4,-2.2,-2,-1.8,-1.6,-1.4,-1.2,-1,-0.8,-0.6,-0.4,-0.2,0,0.2,0.4,0.6,0.8,1,1.2,1.4,1.6,1.8,2,2.2,2.4,2.6,2.8,3,3.2,3.4],
"labelExpr": "abs(datum.value - round(datum.value)) < 0.01 ? format(round(datum.value), 'd') : ''",
"tickSize": {"condition": {"test": "abs(datum.value - round(datum.value)) < 0.01", "value": -7}, "value": -4},
"tickColor": "#999999", "tickWidth": 1, "domain": false, "grid": false,
"labelFont": "Open Sans", "labelFontSize": 14, "labelColor": "#707070", "labelPadding": 10, "labelOverlap": false, "labelFlush": false,
"title": "s\u2082", "titleFont": "Liberation Sans", "titleFontSize": 31, "titleFontWeight": "bold", "titleColor": "#000000", "titleAngle": 0,
"titleX": -46, "titleY": 229, "titleAlign": "center", "titleBaseline": "middle"}},
"detail": {"field": "k"},
"order": {"value": null}
}
},
{
"data": {"name": "thick"},
"mark": {"type": "line", "interpolate": "cardinal", "stroke": "#5e81b5", "strokeWidth": 4.2, "clip": true},
"encoding": {
"x": {"field": "x", "type": "quantitative", "axis": null},
"y": {"field": "y", "type": "quantitative", "axis": null},
"detail": {"field": "k"},
"order": {"value": null}
}
},
{
"data": {"name": "mid"},
"mark": {"type": "line", "interpolate": "cardinal", "stroke": "#5e81b5", "strokeWidth": 3.2, "clip": true},
"encoding": {
"x": {"field": "x", "type": "quantitative", "axis": null},
"y": {"field": "y", "type": "quantitative", "axis": null},
"detail": {"field": "k"},
"order": {"value": null}
}
},
{
"data": {"name": "thin"},
"mark": {"type": "line", "interpolate": "cardinal", "stroke": "#45679f", "strokeWidth": 1.9, "clip": true},
"encoding": {
"x": {"field": "x", "type": "quantitative", "axis": null},
"y": {"field": "y", "type": "quantitative", "axis": null},
"detail": {"field": "k"},
"order": {"value": null}
}
},
{
"data": {"name": "thin"},
"transform": [
{"window": [{"op": "row_number", "as": "rn"}, {"op": "lead", "field": "x", "as": "nx"}, {"op": "lead", "field": "y", "as": "ny"}], "groupby": ["k"]},
{"filter": "datum.nx != null && datum.rn % 3 == 2"},
{"calculate": "atan2(datum.y - datum.ny, datum.nx - datum.x) * 180 / PI", "as": "ang"}
],
"mark": {"type": "point", "shape": "M1,0L-1,-0.62L-1,0.62Z", "filled": true, "color": "#3a5b92", "opacity": 1, "size": 110, "strokeWidth": 0, "clip": true},
"encoding": {
"x": {"field": "x", "type": "quantitative", "axis": null},
"y": {"field": "y", "type": "quantitative", "axis": null},
"angle": {"field": "ang", "type": "quantitative", "scale": null}
}
},
{
"data": {"name": "thick"},
"transform": [
{"window": [{"op": "row_number", "as": "rn"}, {"op": "lead", "field": "x", "as": "nx"}, {"op": "lead", "field": "y", "as": "ny"}], "groupby": ["k"]},
{"filter": "datum.nx != null && datum.rn % 4 == 3"},
{"calculate": "atan2(datum.y - datum.ny, datum.nx - datum.x) * 180 / PI", "as": "ang"}
],
"mark": {"type": "point", "shape": "M1,0L-1,-0.62L-1,0.62Z", "filled": true, "color": "#3a5b92", "opacity": 1, "size": 120, "strokeWidth": 0, "clip": true},
"encoding": {
"x": {"field": "x", "type": "quantitative", "axis": null},
"y": {"field": "y", "type": "quantitative", "axis": null},
"angle": {"field": "ang", "type": "quantitative", "scale": null}
}
},
{
"data": {"name": "mid"},
"transform": [
{"window": [{"op": "row_number", "as": "rn"}, {"op": "lead", "field": "x", "as": "nx"}, {"op": "lead", "field": "y", "as": "ny"}], "groupby": ["k"]},
{"filter": "datum.nx != null && datum.rn % 3 == 2"},
{"calculate": "atan2(datum.y - datum.ny, datum.nx - datum.x) * 180 / PI", "as": "ang"}
],
"mark": {"type": "point", "shape": "M1,0L-1,-0.62L-1,0.62Z", "filled": true, "color": "#3a5b92", "opacity": 1, "size": 110, "strokeWidth": 0, "clip": true},
"encoding": {
"x": {"field": "x", "type": "quantitative", "axis": null},
"y": {"field": "y", "type": "quantitative", "axis": null},
"angle": {"field": "ang", "type": "quantitative", "scale": null}
}
},
{
"data": {"name": "dot"},
"mark": {"type": "circle", "color": "#0000ff", "opacity": 1, "size": 140},
"encoding": {
"x": {"field": "x", "type": "quantitative",
"axis": {"orient": "top", "values": [-3.4,-3.2,-3,-2.8,-2.6,-2.4,-2.2,-2,-1.8,-1.6,-1.4,-1.2,-1,-0.8,-0.6,-0.4,-0.2,0,0.2,0.4,0.6,0.8,1,1.2,1.4,1.6,1.8,2,2.2,2.4,2.6,2.8,3,3.2,3.4],
"labels": false, "domain": false, "grid": false, "title": null, "tickColor": "#999999",
"tickSize": {"condition": {"test": "abs(datum.value - round(datum.value)) < 0.01", "value": -7}, "value": -4}}},
"y": {"field": "y", "type": "quantitative",
"axis": {"orient": "right", "values": [-3.4,-3.2,-3,-2.8,-2.6,-2.4,-2.2,-2,-1.8,-1.6,-1.4,-1.2,-1,-0.8,-0.6,-0.4,-0.2,0,0.2,0.4,0.6,0.8,1,1.2,1.4,1.6,1.8,2,2.2,2.4,2.6,2.8,3,3.2,3.4],
"labels": false, "domain": false, "grid": false, "title": null, "tickColor": "#999999",
"tickSize": {"condition": {"test": "abs(datum.value - round(datum.value)) < 0.01", "value": -7}, "value": -4}}}
}
}
],
"resolve": {"axis": {"x": "independent", "y": "independent"}}
}
